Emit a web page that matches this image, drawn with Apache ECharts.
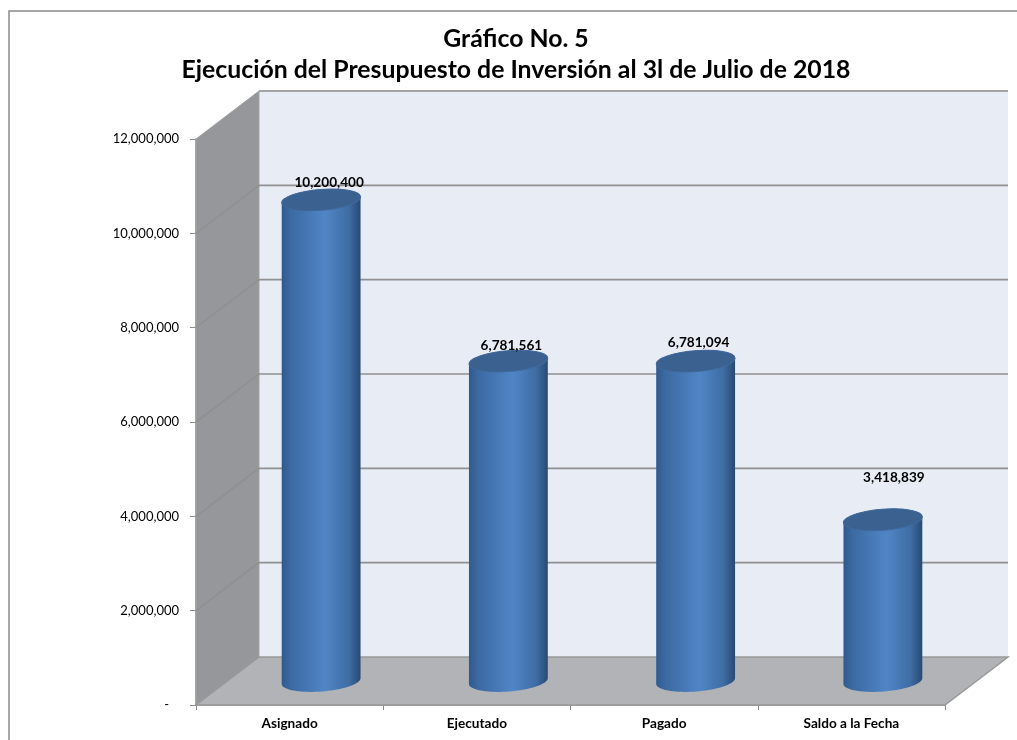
<!DOCTYPE html>
<html>
<head>
<meta charset="utf-8">
<style>
  html, body { margin: 0; padding: 0; background: #fff; }
  #chart { width: 1017px; height: 740px; }
</style>
<script src="https://cdn.jsdelivr.net/npm/echarts@6/dist/echarts.min.js"></script>
</head>
<body>
<div id="chart"></div>
<script>
const categories = ['Asignado', 'Ejecutado', 'Pagado', 'Saldo a la Fecha']
const values = [10200400, 6781561, 6781094, 3418839]
const valueTicks = [0, 2000000, 4000000, 6000000, 8000000, 10000000, 12000000]

// depth of the fake 3d box, in px
const DEPTH_X = 63
const DEPTH_Y = 48
// where each value label sits from the top of its cylinder
const labelShift = [[8, -17], [3, -16], [3, -19], [11, -42]]

const chart = echarts.init(document.getElementById('chart'))

function ellipsePoints(cx, cy, rx, ry, tilt, from, to) {
  const pts = []
  const n = 40
  for (let i = 0; i <= n; i++) {
    const t = from + (to - from) * i / n
    const ex = rx * Math.cos(t)
    const ey = ry * Math.sin(t)
    pts.push([cx + ex * Math.cos(tilt) - ey * Math.sin(tilt), cy + ex * Math.sin(tilt) + ey * Math.cos(tilt)])
  }
  return pts
}

function renderWalls(params) {
  if (params.dataIndex > 0) return
  const c = params.coordSys
  const x0 = c.x, x1 = c.x + c.width, yTop = c.y, yBot = c.y + c.height
  const border = { stroke: '#a3a3a3', lineWidth: 1.8 }
  return {
    type: 'group',
    children: [
      {
        type: 'polygon',
        shape: { points: [[x0 + DEPTH_X, yTop - DEPTH_Y], [x1 + DEPTH_X, yTop - DEPTH_Y], [x1 + DEPTH_X, yBot - DEPTH_Y], [x0 + DEPTH_X, yBot - DEPTH_Y]] },
        style: { fill: '#e7ecf5' }
      },
      {
        type: 'polygon',
        shape: { points: [[x0, yTop], [x0 + DEPTH_X, yTop - DEPTH_Y], [x0 + DEPTH_X, yBot - DEPTH_Y], [x0, yBot]] },
        style: { fill: '#96979a', stroke: '#a3a3a3', lineWidth: 1 }
      },
      {
        type: 'polygon',
        shape: { points: [[x0, yBot], [x0 + DEPTH_X, yBot - DEPTH_Y], [x1 + DEPTH_X, yBot - DEPTH_Y], [x1, yBot]] },
        style: { fill: '#b1b3b7', stroke: '#999', lineWidth: 1.5 }
      },
      {
        type: 'polyline',
        shape: { points: [[x0 + DEPTH_X, yTop - DEPTH_Y], [x1 + DEPTH_X, yTop - DEPTH_Y]] },
        style: Object.assign({ fill: null }, border)
      }
    ]
  }
}

function renderGridLine(params, api) {
  const c = params.coordSys
  const v = api.value(1)
  if (v === 0 || v === 12000000) return
  const y = api.coord([0, v])[1]
  return {
    type: 'polyline',
    shape: { points: [[c.x, y], [c.x + DEPTH_X, y - DEPTH_Y], [c.x + c.width + DEPTH_X, y - DEPTH_Y]] },
    style: { fill: null, stroke: '#909090', lineWidth: 1.7 }
  }
}

function renderCylinder(params, api) {
  const i = api.value(0)
  const top = api.coord([i, api.value(1)])
  const base = api.coord([i, 0])
  const rx = api.size([1, 0])[0] * 0.2112
  const ry = 10.5
  const tilt = -4.5 * Math.PI / 180
  const cx = top[0] + DEPTH_X / 2
  const yTop = top[1] - DEPTH_Y / 2
  const yBase = base[1] - DEPTH_Y / 2
  const bottomEdge = ellipsePoints(cx, yBase, rx, ry, tilt, 0, Math.PI)
  const topEdge = ellipsePoints(cx, yTop, rx, ry, tilt, Math.PI, 2 * Math.PI)
  return {
    type: 'group',
    children: [
      {
        type: 'polygon',
        shape: { points: bottomEdge.concat(topEdge) },
        style: {
          fill: new echarts.graphic.LinearGradient(0, 0, 1, 0, [
            { offset: 0, color: '#2f5a8e' },
            { offset: 0.12, color: '#3c6aa2' },
            { offset: 0.55, color: '#5085c6' },
            { offset: 0.85, color: '#3f6da4' },
            { offset: 1, color: '#274a74' }
          ])
        }
      },
      {
        type: 'ellipse',
        x: cx,
        y: yTop,
        rotation: -tilt,
        shape: { cx: 0, cy: 0, rx: rx, ry: ry },
        style: { fill: '#3a618f', stroke: '#41699c', lineWidth: 1 }
      },
      {
        type: 'text',
        x: cx + labelShift[i][0],
        y: yTop + labelShift[i][1],
        style: {
          text: echarts.format.addCommas(api.value(1)),
          fill: '#000',
          font: 'bold 13.6px Lato',
          align: 'center',
          verticalAlign: 'middle'
        }
      }
    ]
  }
}

const option = {
  animation: false,
  backgroundColor: '#fff',
  title: {
    text: 'Gráfico No. 5\nEjecución del Presupuesto de Inversión al 3l de Julio de 2018',
    left: 511,
    top: 19,
    textAlign: 'center',
    textStyle: { fontFamily: 'Lato', fontWeight: 'bold', fontSize: 24.8, lineHeight: 31, color: '#000' }
  },
  graphic: [{
    type: 'rect',
    shape: { x: 9, y: 11, width: 1100, height: 800 },
    style: { fill: 'transparent', stroke: '#8a8a8a', lineWidth: 1.5 },
    silent: true
  }],
  grid: { left: 196, top: 139, width: 749, height: 566 },
  xAxis: {
    type: 'category',
    data: categories,
    axisLine: { lineStyle: { color: '#8a8a8a', width: 1.5 } },
    axisTick: { show: true, length: 5, alignWithLabel: false, lineStyle: { color: '#8a8a8a' } },
    axisLabel: { color: '#000', fontFamily: 'Lato', fontWeight: 'bold', fontSize: 13.6, margin: 12, interval: 0 }
  },
  yAxis: {
    type: 'value',
    min: 0,
    max: 12000000,
    interval: 2000000,
    axisLine: { show: true, lineStyle: { color: '#8a8a8a', width: 1.5 } },
    axisTick: { show: true, length: 6, lineStyle: { color: '#8a8a8a' } },
    splitLine: { show: false },
    axisLabel: {
      color: '#000',
      fontFamily: 'Lato',
      fontSize: 13,
      margin: 17,
      padding: [3, 0, 0, 0],
      showMinLabel: true,
      formatter: v => (v === 0 ? '-   ' : echarts.format.addCommas(v))
    }
  },
  series: [
    {
      type: 'custom',
      z: 1,
      clip: false,
      silent: true,
      renderItem: renderWalls,
      encode: { x: 0, y: 1 },
      data: [[0, 0]]
    },
    {
      type: 'custom',
      z: 2,
      clip: false,
      silent: true,
      renderItem: renderGridLine,
      encode: { x: 0, y: 1 },
      data: valueTicks.map(v => [0, v])
    },
    {
      type: 'custom',
      z: 3,
      clip: false,
      silent: true,
      renderItem: renderCylinder,
      encode: { x: 0, y: 1 },
      data: values.map((v, i) => [i, v])
    }
  ]
}

chart.setOption(option)
</script>
</body>
</html>
